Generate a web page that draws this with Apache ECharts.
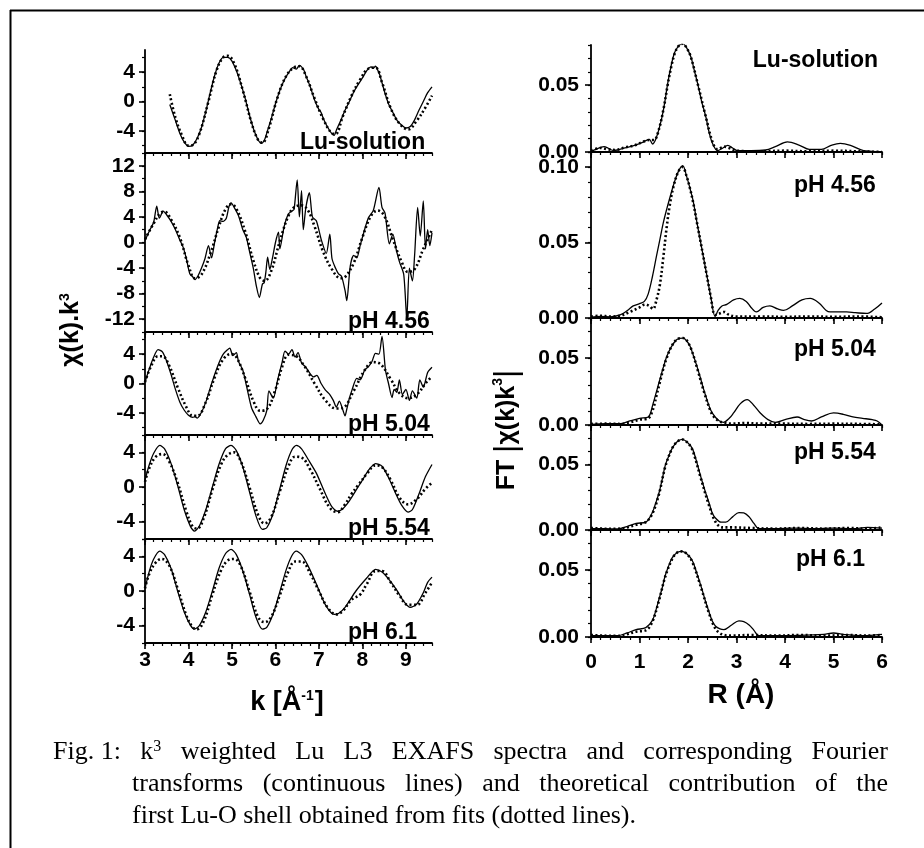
<!DOCTYPE html>
<html><head><meta charset="utf-8">
<script src="https://cdn.jsdelivr.net/npm/echarts@6/dist/echarts.min.js"></script>
<style>html,body{margin:0;padding:0;background:#fff}#c{width:924px;height:848px}</style>
</head><body><div id="c"></div>
<script>
// ---------------- DATA ----------------
const panelNames = ['Lu-solution', 'pH 4.56', 'pH 5.04', 'pH 5.54', 'pH 6.1'];
const kTickLabels = [3, 4, 5, 6, 7, 8, 9];
const rTickLabels = [0, 1, 2, 3, 4, 5, 6];
const leftYLabels = [[-4, 0, 4], [-12, -8, -4, 0, 4, 8, 12], [-4, 0, 4], [-4, 0, 4], [-4, 0, 4]];
const rightYLabels = [[0, 0.05], [0, 0.05, 0.10], [0, 0.05], [0, 0.05], [0, 0.05]];

// EXAFS chi(k)k^3, experiment (solid) and fit (dotted): [k, value]
const chiLuExp = [[3.57,-0.4],[3.7,-2.6],[3.8,-4.3],[3.9,-5.5],[4.0,-6.1],[4.1,-5.9],[4.2,-5.0],[4.3,-3.5],[4.4,-1.3],[4.5,1.2],[4.6,3.5],[4.7,5.2],[4.8,6.0],[4.9,6.0],[5.0,5.5],[5.1,4.2],[5.2,2.5],[5.3,0.5],[5.4,-1.8],[5.5,-3.8],[5.6,-5.2],[5.68,-5.7],[5.75,-5.2],[5.8,-4.3],[5.9,-2.4],[6.0,-0.3],[6.1,1.5],[6.2,2.9],[6.3,3.9],[6.4,4.6],[6.48,4.4],[6.55,4.9],[6.65,4.3],[6.7,3.5],[6.8,2.0],[6.9,0.2],[7.0,-1.1],[7.05,-1.5],[7.1,-2.3],[7.2,-3.5],[7.3,-4.4],[7.35,-4.6],[7.4,-3.9],[7.5,-2.6],[7.6,-1.2],[7.7,0.0],[7.8,1.3],[7.9,2.3],[8.0,3.2],[8.1,4.2],[8.2,4.7],[8.25,4.5],[8.3,4.8],[8.35,4.3],[8.4,3.6],[8.5,1.5],[8.6,-0.3],[8.7,-1.5],[8.8,-2.6],[8.9,-3.2],[9.0,-3.6],[9.1,-3.4],[9.2,-2.5],[9.3,-1.2],[9.4,0.0],[9.5,1.2],[9.6,2.0]];
const chiLuFit = [[3.57,1.0],[3.7,-2.2],[3.85,-4.6],[4.0,-6.0],[4.1,-5.9],[4.25,-4.4],[4.45,-0.2],[4.65,4.3],[4.8,6.0],[4.9,6.2],[5.05,5.2],[5.25,1.5],[5.45,-2.9],[5.6,-5.2],[5.7,-5.6],[5.85,-3.6],[6.05,0.6],[6.25,3.5],[6.45,4.7],[6.55,4.8],[6.7,3.5],[6.9,0.4],[7.1,-2.4],[7.3,-4.3],[7.38,-4.4],[7.55,-2.0],[7.75,0.8],[7.95,3.0],[8.15,4.5],[8.3,4.6],[8.45,2.6],[8.65,-0.9],[8.85,-3.0],[9.05,-3.8],[9.25,-2.6],[9.45,-0.8],[9.6,0.8]];
const chi456Exp = [[3.0,0.3],[3.1,1.8],[3.2,3.2],[3.27,5.7],[3.33,3.8],[3.42,4.9],[3.5,4.3],[3.6,3.3],[3.7,2.0],[3.8,0.4],[3.88,-0.8],[3.95,-2.5],[4.03,-4.9],[4.1,-5.4],[4.15,-5.8],[4.22,-5.2],[4.3,-4.0],[4.38,-2.5],[4.46,-0.5],[4.53,-2.4],[4.6,0.0],[4.68,2.6],[4.72,3.4],[4.8,3.3],[4.87,3.8],[4.93,5.6],[4.98,6.2],[5.05,5.5],[5.15,4.2],[5.25,2.0],[5.33,0.8],[5.41,-1.6],[5.49,-4.0],[5.56,-6.8],[5.63,-8.6],[5.7,-6.5],[5.74,-6.3],[5.78,-4.6],[5.82,-2.3],[5.87,-4.2],[5.93,-2.5],[6.0,0.0],[6.07,1.6],[6.1,-1.0],[6.2,2.5],[6.3,4.5],[6.4,5.0],[6.43,5.2],[6.5,9.8],[6.55,4.0],[6.6,8.1],[6.64,2.0],[6.7,5.5],[6.78,7.8],[6.85,4.0],[6.94,3.4],[7.06,0.3],[7.17,-1.7],[7.25,1.3],[7.3,-2.5],[7.38,-4.0],[7.45,-4.9],[7.52,-5.3],[7.6,-7.5],[7.64,-9.1],[7.72,-3.7],[7.8,-2.0],[7.87,-2.4],[7.95,-0.4],[8.05,2.0],[8.14,3.9],[8.25,5.0],[8.38,8.6],[8.45,5.5],[8.52,4.6],[8.62,-0.2],[8.7,1.3],[8.78,-1.2],[8.85,-3.0],[8.95,-5.0],[9.02,-11.8],[9.08,-4.0],[9.15,-6.0],[9.2,-2.0],[9.27,5.5],[9.33,1.0],[9.4,6.5],[9.45,-1.0],[9.5,2.0],[9.55,-0.5],[9.6,1.5]];
const chi456Fit = [[3.0,0.5],[3.2,3.0],[3.35,4.6],[3.45,4.8],[3.6,3.6],[3.8,0.8],[4.0,-3.6],[4.15,-5.6],[4.3,-5.0],[4.5,-1.8],[4.7,2.5],[4.85,5.2],[4.98,6.0],[5.1,5.3],[5.3,1.8],[5.5,-3.0],[5.65,-5.6],[5.75,-6.0],[5.9,-4.5],[6.1,0.2],[6.3,4.2],[6.45,5.6],[6.6,5.8],[6.75,5.0],[6.9,2.5],[7.1,-1.5],[7.3,-4.2],[7.5,-5.6],[7.6,-5.4],[7.8,-3.2],[8.0,0.8],[8.2,4.2],[8.35,5.0],[8.5,4.2],[8.7,0.5],[8.9,-3.0],[9.05,-4.6],[9.2,-4.2],[9.4,-1.0],[9.6,2.0]];
const chi504Exp = [[3.0,0.2],[3.1,2.0],[3.2,3.6],[3.3,4.6],[3.4,4.3],[3.5,3.0],[3.6,1.2],[3.7,-0.8],[3.8,-2.5],[3.9,-3.6],[4.0,-4.3],[4.1,-4.6],[4.15,-4.5],[4.2,-4.7],[4.3,-3.9],[4.4,-2.5],[4.5,-0.6],[4.6,1.2],[4.7,2.8],[4.8,4.0],[4.9,4.6],[4.95,4.8],[5.02,3.8],[5.1,4.2],[5.15,3.0],[5.25,1.8],[5.34,-0.5],[5.45,-3.3],[5.55,-4.5],[5.65,-5.5],[5.72,-5.0],[5.8,-3.7],[5.85,-1.0],[5.95,-2.0],[6.05,0.5],[6.15,2.8],[6.22,4.4],[6.3,4.0],[6.38,4.6],[6.45,3.6],[6.52,4.2],[6.6,2.8],[6.7,2.2],[6.8,1.3],[6.87,0.9],[6.95,1.1],[7.05,0.0],[7.15,-0.9],[7.25,-1.5],[7.33,-2.3],[7.4,-3.2],[7.47,-2.4],[7.55,-3.6],[7.6,-4.4],[7.64,-3.5],[7.7,-2.0],[7.76,-0.9],[7.87,0.7],[7.95,0.5],[8.05,1.8],[8.14,2.3],[8.22,3.0],[8.3,4.1],[8.38,4.0],[8.45,6.4],[8.53,1.8],[8.6,0.0],[8.68,-1.9],[8.73,-0.8],[8.79,-1.2],[8.85,0.5],[8.92,-1.5],[9.0,-0.8],[9.08,-2.3],[9.15,-1.0],[9.25,-2.0],[9.32,0.5],[9.4,-0.5],[9.5,1.5],[9.6,2.2]];
const chi504Fit = [[3.0,0.2],[3.15,2.5],[3.3,3.7],[3.4,3.7],[3.55,2.5],[3.75,-0.5],[3.95,-3.2],[4.1,-4.4],[4.2,-4.4],[4.4,-2.5],[4.6,0.8],[4.8,3.3],[4.98,4.0],[5.1,3.6],[5.3,0.8],[5.5,-2.5],[5.65,-3.7],[5.8,-3.5],[6.0,-0.8],[6.15,2.2],[6.3,3.9],[6.45,3.8],[6.65,2.5],[6.9,0.0],[7.15,-2.3],[7.4,-3.4],[7.55,-3.3],[7.8,-1.0],[8.05,1.8],[8.25,2.9],[8.4,2.7],[8.65,0.6],[8.85,-1.3],[9.05,-2.0],[9.25,-1.5],[9.45,0.0],[9.6,1.0]];
const chi554Exp = [[3.0,0.8],[3.1,2.6],[3.2,3.9],[3.34,4.8],[3.45,4.4],[3.6,2.7],[3.75,0.2],[3.9,-2.6],[4.05,-4.6],[4.14,-5.1],[4.25,-4.5],[4.4,-2.6],[4.55,0.0],[4.7,2.6],[4.85,4.4],[4.98,4.8],[5.1,4.2],[5.25,2.3],[5.4,-0.5],[5.55,-3.3],[5.7,-4.9],[5.8,-4.7],[5.95,-3.0],[6.1,-0.2],[6.25,2.6],[6.38,4.3],[6.48,4.8],[6.6,4.4],[6.75,3.2],[6.94,1.6],[7.14,-0.7],[7.3,-2.3],[7.43,-2.8],[7.55,-2.5],[7.7,-1.6],[7.85,-0.4],[8.0,0.8],[8.15,2.0],[8.3,2.7],[8.45,2.4],[8.6,1.1],[8.76,-0.7],[8.9,-2.1],[9.05,-2.9],[9.15,-2.6],[9.3,-0.8],[9.45,1.2],[9.6,2.6]];
const chi554Fit = [[3.0,0.6],[3.1,2.2],[3.25,3.5],[3.4,3.8],[3.55,3.0],[3.75,0.5],[3.95,-2.8],[4.1,-4.6],[4.2,-4.8],[4.35,-3.6],[4.55,-0.3],[4.75,2.6],[4.9,3.7],[5.05,4.0],[5.2,3.0],[5.4,0.0],[5.6,-3.2],[5.75,-4.2],[5.9,-3.5],[6.1,-0.5],[6.3,2.4],[6.45,3.5],[6.6,3.4],[6.8,2.0],[7.0,0.0],[7.25,-2.4],[7.43,-2.9],[7.6,-2.0],[7.75,-0.8],[7.9,0.2],[8.1,1.5],[8.3,2.5],[8.45,2.3],[8.65,0.8],[8.85,-1.2],[9.05,-2.0],[9.25,-1.4],[9.45,-0.2],[9.6,0.5]];
const chi61Exp = [[3.0,0.3],[3.1,2.3],[3.2,3.7],[3.34,4.6],[3.45,4.2],[3.6,2.6],[3.75,0.0],[3.9,-2.4],[4.05,-4.0],[4.14,-4.4],[4.25,-4.0],[4.4,-2.4],[4.55,0.0],[4.7,2.6],[4.85,4.3],[4.98,4.8],[5.1,4.2],[5.25,2.3],[5.4,-0.3],[5.55,-3.0],[5.7,-4.4],[5.8,-4.2],[5.95,-2.6],[6.1,-0.1],[6.25,2.5],[6.38,4.1],[6.48,4.6],[6.6,4.2],[6.75,2.9],[6.95,0.7],[7.15,-1.6],[7.35,-2.7],[7.45,-2.6],[7.6,-1.9],[7.85,0.0],[8.1,1.5],[8.3,2.5],[8.45,2.2],[8.6,1.4],[8.79,0.1],[8.95,-1.2],[9.1,-1.9],[9.25,-1.5],[9.4,-0.2],[9.5,1.0],[9.6,1.6]];
const chi61Fit = [[3.0,0.3],[3.1,2.0],[3.25,3.3],[3.38,3.7],[3.55,3.0],[3.75,0.3],[3.95,-2.8],[4.1,-4.2],[4.2,-4.4],[4.35,-3.5],[4.55,-0.4],[4.75,2.4],[4.9,3.5],[5.05,3.7],[5.2,2.9],[5.4,0.0],[5.6,-3.0],[5.75,-3.6],[5.9,-3.0],[6.1,-0.5],[6.3,2.3],[6.45,3.4],[6.6,3.4],[6.8,2.0],[7.0,0.0],[7.2,-1.9],[7.4,-2.7],[7.55,-2.3],[7.75,-1.0],[7.95,-0.4],[8.1,0.8],[8.3,2.3],[8.45,2.3],[8.65,1.0],[8.85,-0.5],[9.05,-1.6],[9.25,-1.6],[9.45,-0.2],[9.6,1.0]];

// Fourier transform |chi(k)k^3| (solid) and first-shell fit (dotted): [R, value]
const ftLuExp = [[0,0.0005],[0.1,0.002],[0.2,0.0035],[0.27,0.004],[0.35,0.003],[0.45,0.0012],[0.55,0.0015],[0.7,0.003],[0.9,0.005],[1.05,0.007],[1.2,0.0095],[1.27,0.006],[1.35,0.011],[1.45,0.024],[1.52,0.037],[1.58,0.051],[1.65,0.064],[1.72,0.074],[1.8,0.079],[1.89,0.081],[1.97,0.078],[2.06,0.071],[2.13,0.061],[2.2,0.051],[2.28,0.038],[2.37,0.026],[2.44,0.014],[2.51,0.006],[2.61,0.001],[2.72,0.003],[2.82,0.005],[2.92,0.003],[3.02,0.001],[3.3,0.001],[3.6,0.0015],[3.8,0.004],[4.05,0.0075],[4.3,0.005],[4.5,0.002],[4.75,0.002],[4.95,0.005],[5.14,0.0065],[5.35,0.005],[5.62,0.001],[5.8,0.0005],[6,0.0]];
const ftLuFit = [[0,0.001],[0.2,0.003],[0.35,0.002],[0.5,0.0015],[0.7,0.0035],[0.9,0.005],[1.1,0.008],[1.2,0.009],[1.3,0.009],[1.4,0.017],[1.5,0.033],[1.58,0.050],[1.65,0.063],[1.72,0.073],[1.8,0.079],[1.89,0.081],[1.97,0.078],[2.06,0.071],[2.2,0.051],[2.37,0.026],[2.51,0.007],[2.61,0.002],[2.75,0.004],[2.85,0.003],[3.0,0.001],[3.5,0.0005],[4.0,0.001],[4.5,0.0005],[5.0,0.001],[5.5,0.0005],[6,0.0]];
const ft456Exp = [[0,0.0005],[0.2,0.001],[0.4,0.0008],[0.6,0.002],[0.75,0.005],[0.87,0.008],[1.0,0.0095],[1.1,0.011],[1.18,0.016],[1.27,0.028],[1.35,0.041],[1.42,0.052],[1.49,0.063],[1.56,0.072],[1.62,0.079],[1.7,0.088],[1.8,0.097],[1.89,0.101],[1.97,0.094],[2.04,0.086],[2.11,0.077],[2.18,0.064],[2.25,0.052],[2.32,0.040],[2.39,0.028],[2.47,0.014],[2.56,0.001],[2.62,0.005],[2.7,0.008],[2.8,0.009],[2.94,0.012],[3.07,0.013],[3.2,0.011],[3.3,0.007],[3.41,0.004],[3.55,0.007],[3.69,0.008],[3.85,0.006],[3.97,0.005],[4.15,0.008],[4.35,0.012],[4.52,0.013],[4.7,0.010],[4.85,0.005],[4.93,0.004],[5.1,0.004],[5.27,0.004],[5.45,0.0035],[5.68,0.003],[5.85,0.006],[6.0,0.010]];
const ft456Fit = [[0,0.001],[0.2,0.0015],[0.4,0.001],[0.6,0.0015],[0.8,0.004],[1.0,0.007],[1.12,0.009],[1.2,0.008],[1.28,0.006],[1.35,0.012],[1.42,0.022],[1.49,0.040],[1.56,0.060],[1.62,0.074],[1.7,0.087],[1.8,0.097],[1.89,0.100],[1.97,0.094],[2.04,0.086],[2.11,0.076],[2.18,0.064],[2.25,0.052],[2.32,0.040],[2.39,0.028],[2.47,0.014],[2.56,0.002],[2.65,0.003],[2.75,0.004],[2.85,0.002],[3.0,0.001],[3.5,0.001],[4.0,0.0008],[4.5,0.001],[5.0,0.0008],[5.5,0.001],[6,0.0005]];
const ft504Exp = [[0,0.0005],[0.3,0.001],[0.6,0.001],[0.8,0.003],[1.0,0.005],[1.18,0.006],[1.28,0.016],[1.35,0.025],[1.42,0.034],[1.49,0.043],[1.56,0.051],[1.65,0.058],[1.77,0.064],[1.9,0.065],[1.97,0.063],[2.04,0.059],[2.12,0.051],[2.2,0.042],[2.25,0.036],[2.32,0.027],[2.39,0.019],[2.47,0.011],[2.56,0.006],[2.65,0.003],[2.73,0.002],[2.85,0.005],[2.94,0.009],[3.08,0.016],[3.22,0.019],[3.35,0.015],[3.49,0.009],[3.65,0.004],[3.8,0.002],[4.0,0.004],[4.25,0.006],[4.4,0.004],[4.55,0.003],[4.75,0.006],[5.0,0.009],[5.2,0.008],[5.4,0.006],[5.6,0.005],[5.8,0.004],[5.9,0.003],[6,0.0]];
const ft504Fit = [[0,0.0008],[0.3,0.001],[0.6,0.0008],[0.8,0.002],[1.0,0.004],[1.18,0.005],[1.28,0.012],[1.35,0.022],[1.42,0.032],[1.49,0.042],[1.56,0.050],[1.65,0.058],[1.77,0.064],[1.9,0.065],[2.04,0.059],[2.2,0.041],[2.32,0.026],[2.47,0.010],[2.56,0.005],[2.7,0.002],[2.9,0.001],[3.2,0.0015],[3.5,0.001],[4.0,0.001],[4.5,0.0008],[5.0,0.001],[5.5,0.0008],[6,0.0005]];
const ft554Exp = [[0,0.001],[0.3,0.001],[0.55,0.0008],[0.74,0.0026],[0.93,0.005],[1.13,0.006],[1.26,0.013],[1.33,0.020],[1.4,0.028],[1.47,0.039],[1.53,0.049],[1.6,0.056],[1.67,0.062],[1.77,0.067],[1.88,0.069],[1.98,0.067],[2.09,0.062],[2.17,0.053],[2.26,0.041],[2.35,0.030],[2.44,0.020],[2.5,0.013],[2.57,0.009],[2.68,0.006],[2.78,0.006],[2.92,0.010],[3.05,0.0133],[3.15,0.013],[3.26,0.010],[3.36,0.005],[3.46,0.001],[3.8,0.001],[4.2,0.0015],[4.6,0.001],[5.0,0.0015],[5.4,0.001],[5.7,0.002],[6,0.0015]];
const ft554Fit = [[0,0.0015],[0.3,0.001],[0.55,0.001],[0.74,0.002],[0.93,0.004],[1.13,0.006],[1.26,0.012],[1.4,0.027],[1.53,0.048],[1.67,0.062],[1.77,0.067],[1.88,0.069],[1.98,0.067],[2.09,0.061],[2.26,0.040],[2.44,0.018],[2.57,0.006],[2.7,0.002],[2.9,0.002],[3.3,0.0015],[3.8,0.001],[4.3,0.0015],[4.8,0.001],[5.3,0.0015],[5.7,0.001],[6,0.002]];
const ft61Exp = [[0,0.001],[0.3,0.001],[0.55,0.001],[0.74,0.003],[0.93,0.0055],[1.13,0.007],[1.26,0.012],[1.33,0.019],[1.4,0.028],[1.47,0.037],[1.53,0.046],[1.6,0.053],[1.67,0.059],[1.77,0.063],[1.88,0.064],[1.98,0.062],[2.09,0.057],[2.17,0.049],[2.26,0.039],[2.35,0.028],[2.44,0.018],[2.5,0.012],[2.57,0.008],[2.66,0.006],[2.74,0.0055],[2.9,0.009],[3.05,0.012],[3.15,0.0115],[3.26,0.009],[3.36,0.005],[3.46,0.001],[3.8,0.001],[4.3,0.0012],[4.8,0.002],[5.0,0.003],[5.2,0.002],[5.6,0.001],[6,0.002]];
const ft61Fit = [[0,0.0015],[0.3,0.001],[0.55,0.0008],[0.74,0.002],[0.93,0.004],[1.13,0.005],[1.26,0.011],[1.4,0.027],[1.53,0.045],[1.67,0.058],[1.77,0.063],[1.88,0.064],[1.98,0.062],[2.09,0.056],[2.26,0.038],[2.44,0.017],[2.57,0.006],[2.7,0.002],[2.9,0.001],[3.3,0.0015],[3.8,0.001],[4.3,0.0015],[4.8,0.001],[5.3,0.0015],[5.7,0.001],[6,0.0015]];

const chiExp = [chiLuExp, chi456Exp, chi504Exp, chi554Exp, chi61Exp];
const chiFit = [chiLuFit, chi456Fit, chi504Fit, chi554Fit, chi61Fit];
const ftExp = [ftLuExp, ft456Exp, ft504Exp, ft554Exp, ft61Exp];
const ftFit = [ftLuFit, ft456Fit, ft504Fit, ft554Fit, ft61Fit];

const captionLines = [
  ['Fig. 1:', 'k{s|3}', 'weighted', 'Lu', 'L3', 'EXAFS', 'spectra', 'and', 'corresponding', 'Fourier'],
  ['transforms', '(continuous', 'lines)', 'and', 'theoretical', 'contribution', 'of', 'the'],
  ['first', 'Lu-O', 'shell', 'obtained', 'from', 'fits', '(dotted', 'lines).']
];

// ---------------- LAYOUT ----------------
const SANS = 'Liberation Sans, Arial, sans-serif';
const SERIF = 'Liberation Serif, Times New Roman, serif';
const leftBox = {left: 145, width: 287};
const leftGrids = [{top: 50, height: 103}, {top: 153, height: 179}, {top: 332, height: 103}, {top: 435, height: 104}, {top: 539, height: 104}];
const leftYRange = [[-7, 7], [-14, 14], [-7, 7], [-6, 6], [-6, 6]];
const rightBox = {left: 591, width: 291};
const rightGrids = [{top: 45, height: 107}, {top: 152, height: 166}, {top: 318, height: 107}, {top: 425, height: 105}, {top: 530, height: 107}];
const rightYMax = [0.08, 0.11, 0.08, 0.08, 0.08];

function steps(a, b, s) { const o = []; const n = Math.round((b - a) / s); for (let i = 0; i <= n; i++) o.push(Math.round((a + i * s) * 1e6) / 1e6); return o; }

const grids = [], xAxes = [], yAxes = [], series = [];
const tickStyle = {color: '#000', width: 1.6};
const labelFont = {color: '#000', fontFamily: SANS, fontWeight: 'bold', fontSize: 21};

function addAxisPair(list, dim, gi, min, max, majors, minors, showLabel, fmt, margin, majLen) {
  const pos = dim === 'x' ? 'bottom' : 'left';
  list.push({
    type: 'value', gridIndex: gi, min, max, position: pos, offset: 0,
    axisLine: {show: true, onZero: false, lineStyle: {color: '#000', width: 1.8}},
    axisTick: {show: true, inside: false, length: majLen, customValues: majors, lineStyle: tickStyle},
    axisLabel: Object.assign({show: showLabel, customValues: majors, margin, formatter: fmt}, labelFont),
    splitLine: {show: false}
  });
  list.push({
    type: 'value', gridIndex: gi, min, max, position: pos, offset: 0,
    axisLine: {show: false, onZero: false},
    axisTick: {show: true, inside: false, length: 3, customValues: minors, lineStyle: {color: '#000', width: 1.2}},
    axisLabel: {show: false},
    splitLine: {show: false}
  });
}

for (let i = 0; i < 5; i++) {
  const gi = grids.length;
  grids.push({left: leftBox.left, width: leftBox.width, top: leftGrids[i].top, height: leftGrids[i].height});
  const [ymin, ymax] = leftYRange[i];
  addAxisPair(xAxes, 'x', gi, 3, 9.6, kTickLabels, steps(3, 9.6, 0.2), i === 4, v => String(v), 7, 6);
  addAxisPair(yAxes, 'y', gi, ymin, ymax, leftYLabels[i], steps(-14, 14, 2).filter(v => v >= ymin && v <= ymax), true, v => String(v), 10, 6);
  series.push({type: 'line', xAxisIndex: 2 * gi, yAxisIndex: 2 * gi, data: chiExp[i], showSymbol: false, smooth: 0.25,
    lineStyle: {color: '#000', width: 1.3}, z: 3, silent: true});
  series.push({type: 'line', xAxisIndex: 2 * gi, yAxisIndex: 2 * gi, data: chiFit[i], showSymbol: false, smooth: 0.4,
    lineStyle: {color: '#000', width: 2.6, type: [2, 2.5]}, z: 2, silent: true});
}
for (let i = 0; i < 5; i++) {
  const gi = grids.length;
  grids.push({left: rightBox.left, width: rightBox.width, top: rightGrids[i].top, height: rightGrids[i].height});
  addAxisPair(xAxes, 'x', gi, 0, 6, rTickLabels, steps(0, 6, 0.2), i === 4, v => String(v), 15, 6);
  addAxisPair(yAxes, 'y', gi, 0, rightYMax[i], rightYLabels[i], steps(0, rightYMax[i], 0.01), true, v => v.toFixed(2), 12, 6);
  series.push({type: 'line', xAxisIndex: 2 * gi, yAxisIndex: 2 * gi, data: ftExp[i], showSymbol: false, smooth: 0.35,
    lineStyle: {color: '#000', width: 1.3}, z: 3, silent: true});
  series.push({type: 'line', xAxisIndex: 2 * gi, yAxisIndex: 2 * gi, data: ftFit[i], showSymbol: false, smooth: 0.35,
    lineStyle: {color: '#000', width: 2.6, type: [2, 2.5]}, z: 2, silent: true});
}

// ---------------- TEXT GRAPHICS ----------------
const graphic = [];
const panelFont = {fontFamily: SANS, fontWeight: 'bold', fontSize: 23, fill: '#000'};
const leftLabelX = [300, 348, 348, 348, 348];
for (let i = 0; i < 5; i++) {
  const yb = leftGrids[i].top + leftGrids[i].height;
  graphic.push({type: 'text', x: leftLabelX[i], y: yb + 1, style: Object.assign({text: panelNames[i], textAlign: 'left', textVerticalAlign: 'bottom'}, panelFont), z: 10});
}
const rightLabelPos = [[878, 49, 'right'], [794, 174, 'left'], [794, 338, 'left'], [794, 441, 'left'], [796, 548, 'left']];
for (let i = 0; i < 5; i++) {
  const p = rightLabelPos[i];
  graphic.push({type: 'text', x: p[0], y: p[1], style: Object.assign({text: panelNames[i], textAlign: p[2], textVerticalAlign: 'top'}, panelFont), z: 10});
}
graphic.push({type: 'text', x: 287, y: 703, style: {text: '{a|k [Å}{s|-1}{a|]}', textAlign: 'center', textVerticalAlign: 'middle',
  rich: {a: {fontFamily: SANS, fontWeight: 'bold', fontSize: 27, fill: '#000'}, s: {fontFamily: SANS, fontWeight: 'bold', fontSize: 14, fill: '#000', verticalAlign: 'top', padding: [0, 1, 12, 0]}}}});
graphic.push({type: 'text', x: 741, y: 695, style: {text: 'R (Å)', textAlign: 'center', textVerticalAlign: 'middle', fontFamily: SANS, fontWeight: 'bold', fontSize: 28, fill: '#000'}});
graphic.push({type: 'text', x: 71, y: 330, rotation: Math.PI / 2, style: {text: '{a|χ(k).k}{s|3}', textAlign: 'center', textVerticalAlign: 'middle',
  rich: {a: {fontFamily: SANS, fontWeight: 'bold', fontSize: 25, fill: '#000'}, s: {fontFamily: SANS, fontWeight: 'bold', fontSize: 14, fill: '#000', verticalAlign: 'top', padding: [0, 0, 12, 0]}}}});
graphic.push({type: 'text', x: 507, y: 430, rotation: Math.PI / 2, style: {text: '{a|FT }{b||}{a|χ(k)k}{s|3}{b||}', textAlign: 'center', textVerticalAlign: 'middle',
  rich: {a: {fontFamily: SANS, fontWeight: 'bold', fontSize: 25, fill: '#000'}, b: {fontFamily: SANS, fontWeight: 'normal', fontSize: 32, fill: '#000'}, s: {fontFamily: SANS, fontWeight: 'bold', fontSize: 14, fill: '#000', verticalAlign: 'top', padding: [0, 0, 12, 0]}}}});

// frame
graphic.push({type: 'line', shape: {x1: 10.5, y1: 10, x2: 10.5, y2: 848}, style: {stroke: '#000', lineWidth: 2}});
graphic.push({type: 'line', shape: {x1: 10, y1: 10.5, x2: 924, y2: 10.5}, style: {stroke: '#000', lineWidth: 2}});

// caption, justified lines
const capFontSize = 26;
const capLeft = [53, 132, 132];
const capRight = [888, 888, null];
const capY = [752, 784, 816];
const cv = document.createElement('canvas').getContext('2d');
function wWidth(w) {
  const m = w.match(/^(.*)\{s\|(.*)\}$/);
  cv.font = capFontSize + 'px ' + SERIF;
  if (m) { const a = cv.measureText(m[1]).width; cv.font = Math.round(capFontSize * 0.6) + 'px ' + SERIF; return a + cv.measureText(m[2]).width; }
  return cv.measureText(w).width;
}
for (let li = 0; li < 3; li++) {
  const words = captionLines[li];
  const widths = words.map(wWidth);
  const total = widths.reduce((a, b) => a + b, 0);
  cv.font = capFontSize + 'px ' + SERIF;
  const sp = cv.measureText(' ').width;
  const gap = capRight[li] ? (capRight[li] - capLeft[li] - total) / (words.length - 1) : sp;
  let x = capLeft[li];
  for (let wi = 0; wi < words.length; wi++) {
    graphic.push({type: 'text', x, y: capY[li], style: {text: words[wi].includes('{') ? '{a|' + words[wi].replace('{s|', '}{s|') : words[wi],
      textAlign: 'left', textVerticalAlign: 'middle', fontFamily: SERIF, fontSize: capFontSize, fill: '#000',
      rich: {a: {fontFamily: SERIF, fontSize: capFontSize, fill: '#000'}, s: {fontFamily: SERIF, fontSize: Math.round(capFontSize * 0.6), fill: '#000', verticalAlign: 'top', padding: [0, 0, 11, 0]}}}});
    x += widths[wi] + gap;
  }
}

const chart = echarts.init(document.getElementById('c'));
chart.setOption({
  animation: false,
  backgroundColor: '#fff',
  grid: grids, xAxis: xAxes, yAxis: yAxes, series, graphic
});
</script></body></html>
